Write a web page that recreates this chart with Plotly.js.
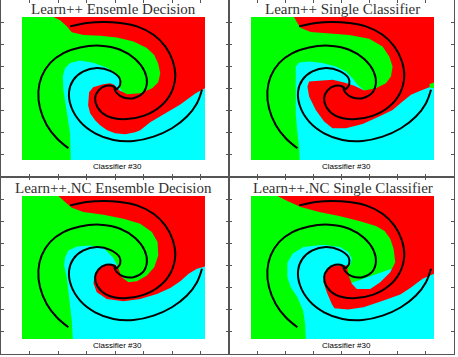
<!DOCTYPE html>
<html><head><meta charset="utf-8">
<script src="https://cdn.plot.ly/plotly-3.0.1.min.js"></script>
<style>body{margin:0;padding:0;background:#fff}#chart{width:458px;height:357px}</style>
</head><body><div id="chart"></div>
<script>
// ---- text ----
const panelTitles = ['Learn++ Ensemle Decision', 'Learn++ Single Classifier',
                     'Learn++.NC Ensemble Decision', 'Learn++.NC Single Classifier'];
const panelLabel = 'Classifier #30';

// ---- spiral arms (panel units, x 0..548, y 0..428 downward) ----
const armTopX = [144,194,244,294,344,394,429,452,459,446,414,364,304,254,226,219,229,252,274,284];
const armTopY = [28,18,15,18,28,53,88,133,178,228,268,296,306,296,270,243,220,206,208,218];
const armRightX = [539,524,494,449,394,334,274,219,174,147,141,154,184,224,264,292,294,284];
const armRightY = [218,258,298,333,358,371,368,348,313,268,223,188,163,153,161,183,203,216];
const armLeftX = [139,104,74,54,49,59,84,124,174,234,294,339,367,374,362,334,304,284,276];
const armLeftY = [393,363,323,273,223,178,138,108,91,86,98,126,163,198,228,243,241,228,213];

// ---- decision regions (cyan = background class) ----
const greenTLx = [0,146,144,134,124,122,129,144,174,213,255,279,294,292,330,548,548,0];
const greenTLy = [428,428,348,278,218,178,153,138,130,137,152,168,189,212,260,150,0,0];
const redTLx = [94,548,548,520,474,423,384,354,339,309,279,255,234,219,204,198,201,213,243,264,276,291,315,354,390,408,414,408,396,374,334,284,234,184,149,134,114];
const redTLy = [0,0,213,228,262,291,315,339,345,351,348,339,324,309,288,264,225,210,201,198,203,219,231,228,213,195,168,140,114,93,73,61,56,54,46,28,10];

const greenTRx = [0,146,144,139,134,134,132,134,144,174,214,254,284,304,319,339,384,548,548,0];
const greenTRy = [428,428,388,348,288,228,178,148,136,133,138,148,163,183,203,220,248,178,0,0];
const redTRx = [129,548,548,534,509,479,454,424,384,334,284,244,219,194,174,169,174,204,244,279,309,339,374,404,419,424,414,394,354,294,234,179,149,139];
const redTRy = [0,0,198,210,220,233,253,278,298,320,333,333,313,278,238,208,193,190,188,196,206,220,213,198,178,148,118,88,65,54,49,45,33,18];
const blobTRx = [534,548,548,536];
const blobTRy = [201,196,213,212];

const greenBLx = [0,152,149,144,139,134,126,129,139,164,204,244,272,284,294,309,319,384,548,548,0];
const greenBLy = [428,428,373,323,283,243,208,183,163,151,148,156,183,205,233,255,258,273,163,0,0];
const redBLx = [109,548,548,524,499,474,444,404,354,304,254,224,214,219,234,256,279,289,299,319,344,374,396,408,406,389,354,304,244,184,149,129];
const redBLy = [0,0,211,218,233,255,275,293,308,315,308,288,261,233,213,205,205,218,243,258,255,238,213,178,138,108,83,68,56,48,35,18];

const greenBRx = [0,164,162,156,139,119,109,109,125,157,217,267,292,302,297,287,264,548,548,0];
const greenBRy = [428,428,383,343,303,273,243,200,172,153,146,153,168,188,208,208,273,173,0,0];
const redBRx = [79,548,548,514,477,447,397,337,290,250,242,227,217,222,232,257,277,287,292,302,317,357,387,417,432,427,417,400,374,324,264,204,149,109];
const redBRy = [0,0,233,248,275,295,313,333,340,336,323,288,258,238,213,208,208,208,238,263,278,278,258,228,198,158,128,105,90,75,60,48,33,15];

// ---- layout helpers ----
const W = 458, H = 357;
const px = v => v / W;
const py = v => 1 - v / H;
const GREEN = '#00ff00', RED = '#ff0000', CYAN = '#00ffff';

const frames = [ // quadrant pixel boxes [x0,x1,y0,y1]
  [1, 229, 0, 177], [229, 454, 0, 177], [1, 229, 177, 354], [229, 454, 177, 354]];
const panels = [
  [22, 205, 17, 160], [251, 434, 17, 160], [22, 205, 196, 339], [251, 434, 196, 339]];
const regions = [
  [greenTLx, greenTLy, redTLx, redTLy],
  [greenTRx, greenTRy, redTRx, redTRy],
  [greenBLx, greenBLy, redBLx, redBLy],
  [greenBRx, greenBRy, redBRx, redBRy]];

const traces = [];
const layout = {
  width: W, height: H, margin: {l: 0, r: 0, t: 0, b: 0},
  paper_bgcolor: '#fff', plot_bgcolor: 'rgba(0,0,0,0)', showlegend: false,
  shapes: [], annotations: []
};

frames.forEach((f, i) => {
  const n = i + 1, sx = n === 1 ? '' : n;
  layout['xaxis' + sx] = {domain: [px(f[0]), px(f[1])], range: [0, 8], dtick: 1, ticks: 'inside', ticklen: 3,
    tickcolor: '#555', showline: true, linecolor: '#555', linewidth: 1, mirror: 'ticks',
    showticklabels: false, showgrid: false, zeroline: false, anchor: 'y' + sx, fixedrange: true};
  layout['yaxis' + sx] = {domain: [py(f[3]), py(f[2])], range: [0, 8], dtick: 1, ticks: 'inside', ticklen: 3,
    tickcolor: '#555', showline: true, linecolor: '#555', linewidth: 1, mirror: 'ticks',
    showticklabels: false, showgrid: false, zeroline: false, anchor: 'x' + sx, fixedrange: true};
  traces.push({x: [], y: [], xaxis: 'x' + sx, yaxis: 'y' + sx, type: 'scatter', mode: 'markers', hoverinfo: 'skip'});
});

panels.forEach((p, i) => {
  const n = i + 5, xa = 'x' + n, ya = 'y' + n;
  layout['xaxis' + n] = {domain: [px(p[0]), px(p[1])], range: [0, 548], visible: false, anchor: ya, fixedrange: true};
  layout['yaxis' + n] = {domain: [py(p[3]), py(p[2])], range: [428, 0], visible: false, anchor: xa, fixedrange: true};
  layout.shapes.push({type: 'rect', xref: 'paper', yref: 'paper', x0: px(p[0]), x1: px(p[1]), y0: py(p[3]), y1: py(p[2]),
    fillcolor: CYAN, line: {width: 0}, layer: 'below'});
  const r = regions[i];
  traces.push({x: r[0], y: r[1], xaxis: xa, yaxis: ya, type: 'scatter', mode: 'lines', fill: 'toself',
    fillcolor: GREEN, line: {width: 0, color: GREEN}, hoverinfo: 'skip'});
  traces.push({x: r[2], y: r[3], xaxis: xa, yaxis: ya, type: 'scatter', mode: 'lines', fill: 'toself',
    fillcolor: RED, line: {width: 0, color: RED}, hoverinfo: 'skip'});
  if (i === 1) {
    traces.push({x: blobTRx, y: blobTRy, xaxis: xa, yaxis: ya, type: 'scatter', mode: 'lines', fill: 'toself',
      fillcolor: GREEN, line: {width: 0, color: GREEN}, hoverinfo: 'skip'});
  }
  [[armTopX, armTopY], [armRightX, armRightY], [armLeftX, armLeftY]].forEach(a => {
    traces.push({x: a[0], y: a[1], xaxis: xa, yaxis: ya, type: 'scatter', mode: 'lines',
      line: {color: '#000', width: 2, shape: 'spline', smoothing: 1}, hoverinfo: 'skip'});
  });
  const cx = (p[0] + p[1]) / 2;
  layout.annotations.push({text: panelTitles[i], xref: 'paper', yref: 'paper', x: px(cx), y: py(p[2] - 8),
    xanchor: 'center', yanchor: 'middle', showarrow: false,
    font: {family: 'Liberation Serif, Times New Roman, serif', size: 15, color: '#333'}});
  layout.annotations.push({text: panelLabel, xref: 'paper', yref: 'paper', x: px(cx + 3.5), y: py(p[3] + 6),
    xanchor: 'center', yanchor: 'middle', showarrow: false,
    font: {family: 'Liberation Sans, Arial, sans-serif', size: 8, color: '#000'}});
});

Plotly.newPlot('chart', traces, layout, {staticPlot: true, displayModeBar: false});
</script>
</body></html>
